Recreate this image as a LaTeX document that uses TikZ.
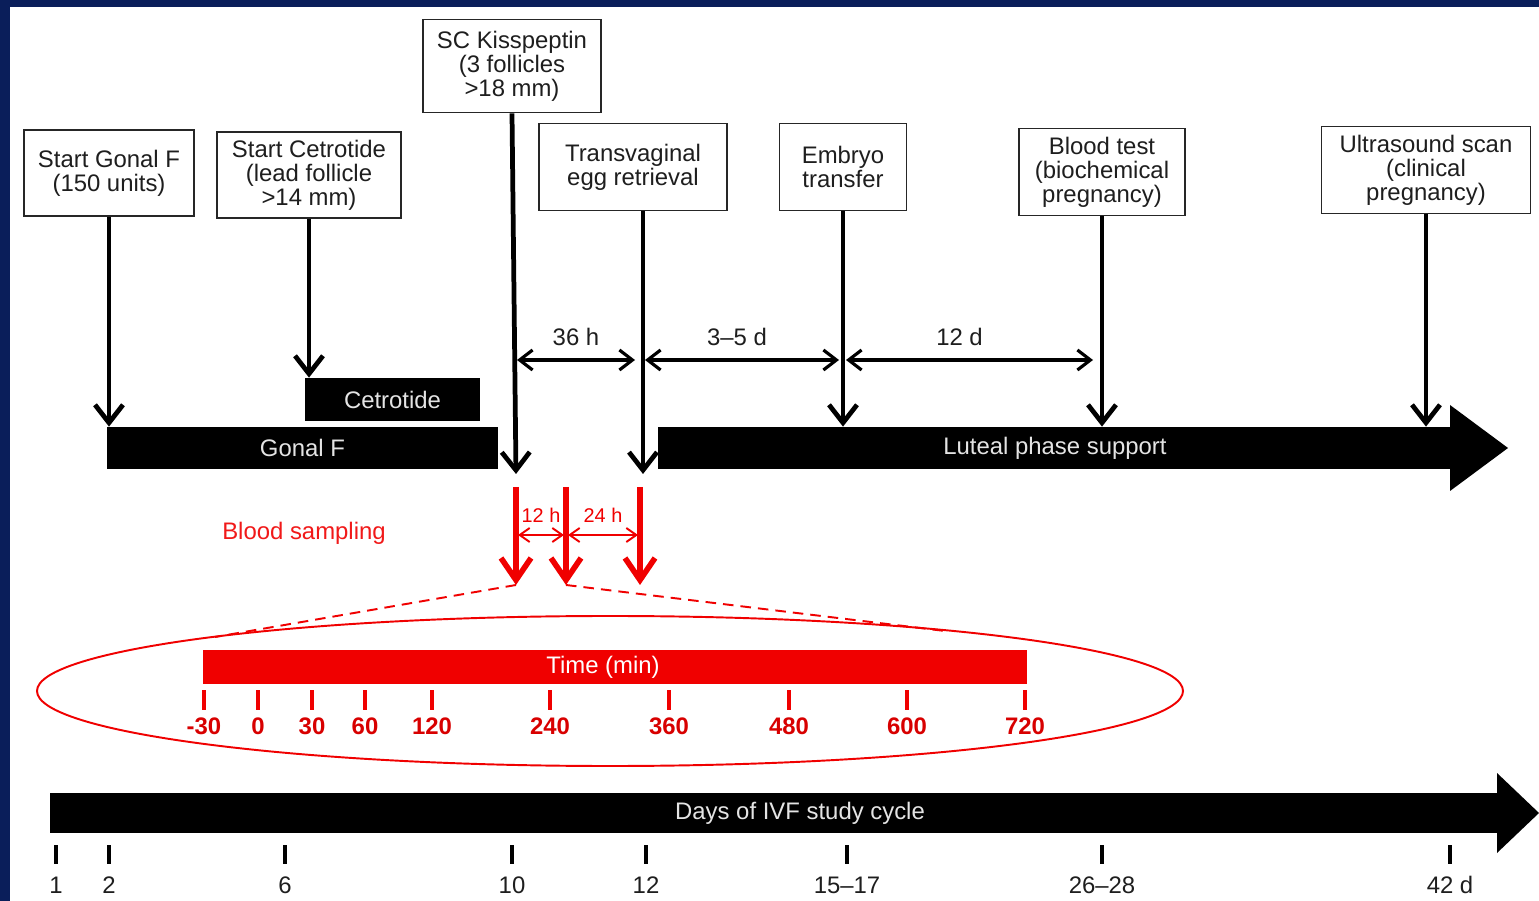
\documentclass[tikz,border=0pt]{standalone}
\usepackage{fontspec}
\setmainfont{Liberation Sans}
\usetikzlibrary{arrows.meta,positioning,shapes.geometric}

\definecolor{navy}{HTML}{0A1E5A}
\definecolor{ivfred}{HTML}{F00000}
\definecolor{boxtxt}{HTML}{1E1E1E}
\definecolor{bartxt}{HTML}{E4E4E4}
\newcommand{\ivfsize}{\fontsize{13.6}{13.6}\selectfont}
\newcommand{\ivfsmall}{\fontsize{11.3}{11.3}\selectfont}

\begin{document}
\begin{tikzpicture}[
  x=0.2mm, y=-0.2mm,
  font=\ivfsize,
  event/.style ={draw=black!85, fill=white, line width=1.1pt, align=center, inner sep=1pt,
                 text=boxtxt, minimum height=17.4mm},
  drug/.style  ={fill=black, text=bartxt, inner sep=0pt},
  lab/.style   ={inner sep=0pt, text=boxtxt},
  cue/.style   ={-{Straight Barb[length=3.6mm,width=5.6mm]}, line width=2.7pt},
  span/.style  ={{Straight Barb[length=2.6mm,width=4mm]}-{Straight Barb[length=2.6mm,width=4mm]}, line width=1.8pt},
  sample/.style={ivfred, -{Straight Barb[length=4.4mm,width=6mm]}, line width=3.2pt},
  gap/.style   ={ivfred, {Straight Barb[length=2mm,width=2.8mm]}-{Straight Barb[length=2mm,width=2.8mm]}, line width=1.1pt},
  zoomline/.style={ivfred, dash pattern=on 6pt off 4pt, line width=1.1pt},
]
\useasboundingbox (0,0) rectangle (1539,901);
\fill[navy] (0,0) rectangle (1539,901);
\fill[white] (10,7) rectangle (1539,901);

% ---------------- events ----------------
\node[event, minimum width=34mm, minimum height=17.2mm]   (gonal)  at (109,173)  {Start Gonal F\\(150 units)};
\node[event, minimum width=36.8mm, minimum height=17.2mm] (cetro)  at (309,175)  {Start Cetrotide\\(lead follicle\\>14 mm)};
\node[event, minimum width=35.6mm, minimum height=18.6mm] (kiss)   at (512,66)   {SC Kisspeptin\\(3 follicles\\>18 mm)};
\node[event, minimum width=37.6mm] (retr)   at (633,167)  {Transvaginal\\egg retrieval};
\node[event, minimum width=25.4mm] (transf) at (843,167)  {Embryo\\transfer};
\node[event, minimum width=33.2mm] (btest)  at (1102,172) {Blood test\\(biochemical\\pregnancy)};
\node[event, minimum width=41.8mm] (uscan)  at (1426,170) {Ultrasound scan\\(clinical\\pregnancy)};

% ---------------- treatment bars ----------------
\node[drug, minimum width=35mm, minimum height=8.6mm]    (cetbar) at (392.5,399.5) {Cetrotide};
\node[drug, minimum width=78.2mm, minimum height=8.4mm]  (gonbar) at (302.5,448)   {Gonal F};
\node[drug, minimum width=158.8mm, minimum height=8.4mm] (lutbar) at (1055,448)    {Luteal phase support};
\fill (1450,405) -- (1508,448) -- (1450,491) -- cycle;

% event -> treatment
\coordinate (kisstip) at (516,474);
\coordinate (retrtip) at (643,474);
\draw[cue] (gonal.south)  -- (gonal.south |- gonbar.north);
\draw[cue] (cetro.south)  -- (cetro.south |- cetbar.north);
\draw[cue] (kiss.south)   -- (kisstip);
\draw[cue] (retr.south -| retrtip) -- (retrtip);
\draw[cue] (transf.south) -- (transf.south |- lutbar.north);
\draw[cue] (btest.south)  -- (btest.south |- lutbar.north);
\draw[cue] (uscan.south)  -- (uscan.south |- lutbar.north);

% intervals
\coordinate (kissmid)   at (517,360);
\coordinate (retrin)    at (635,360);
\coordinate (retrmid)   at (645,360);
\coordinate (transfin)  at (839,360);
\coordinate (transfmid) at (846,360);
\coordinate (btestin)   at (1093,360);
\draw[span] (kissmid)   -- node[lab, above=2.5mm] (l36)  {36 h}  (retrin);
\draw[span] (retrmid)   -- node[lab, above=2.5mm, xshift=-1mm] (l35)  {3--5 d} (transfin);
\draw[span] (transfmid) -- node[lab, above=2.5mm, xshift=-2mm] (l12)  {12 d}  (btestin);

% ---------------- blood sampling ----------------
\node[text=ivfred!90!white] (bslab) at (304,533) {Blood sampling};
\coordinate (s1top) at (516,487); \coordinate (s1) at (516,585);
\coordinate (s2top) at (566,487); \coordinate (s2) at (566,585);
\coordinate (s3top) at (640,487); \coordinate (s3) at (640,585);
\draw[sample] (s1top) -- (s1);
\draw[sample] (s2top) -- (s2);
\draw[sample] (s3top) -- (s3);
\coordinate (g1) at (518,535); \coordinate (g2) at (564,535);
\coordinate (g3) at (568,535); \coordinate (g4) at (638,535);
\draw[gap] (g1) -- node[inner sep=0pt, above=2.4mm, text=ivfred, font=\ivfsmall] (l12h) {12 h} (g2);
\draw[gap] (g3) -- node[inner sep=0pt, above=2.4mm, text=ivfred, font=\ivfsmall] (l24h) {24 h} (g4);

% zoomed sampling window
\node[draw=ivfred, ellipse, line width=1.1pt, minimum width=229.2mm, minimum height=30mm] (window) at (610,691) {};
\coordinate (winl) at (215,637);
\coordinate (winr) at (945,631);
\draw[zoomline] (s1) -- (winl);
\draw[zoomline] (s2) -- (winr);
\node[fill=ivfred, text=white, inner sep=0pt, minimum width=164.8mm, minimum height=6.8mm] (timebar) at (615,667) {Time (min)\hspace*{4.8mm}};
\foreach \x/\t in {204/-30,258/0,312/30,365/60,432/120,550/240,669/360,789/480,907/600,1025/720}{
  \draw[ivfred, line width=2.3pt] (\x,690) -- (\x,710);
  \node[inner sep=0pt, text=ivfred!90!black, font=\ivfsize\bfseries] (min\t) at (\x,726) {\t};
}

% ---------------- study days ----------------
\node[drug, minimum width=289.8mm, minimum height=8mm] (daybar) at (774.5,813) {};
\fill (1497,773) -- (1539,813) -- (1497,853) -- cycle;
\node[text=bartxt, inner sep=0pt] (daytxt) at (800,813) {Days of IVF study cycle};
\foreach \x/\d in {56/1,109/2,285/6,512/10,646/12,847/15--17,1102/26--28,1450/42 d}{
  \draw[line width=2.8pt] (\x,845) -- (\x,864);
  \node[lab] (day\x) at (\x,885) {\d};
}
\end{tikzpicture}
\end{document}
